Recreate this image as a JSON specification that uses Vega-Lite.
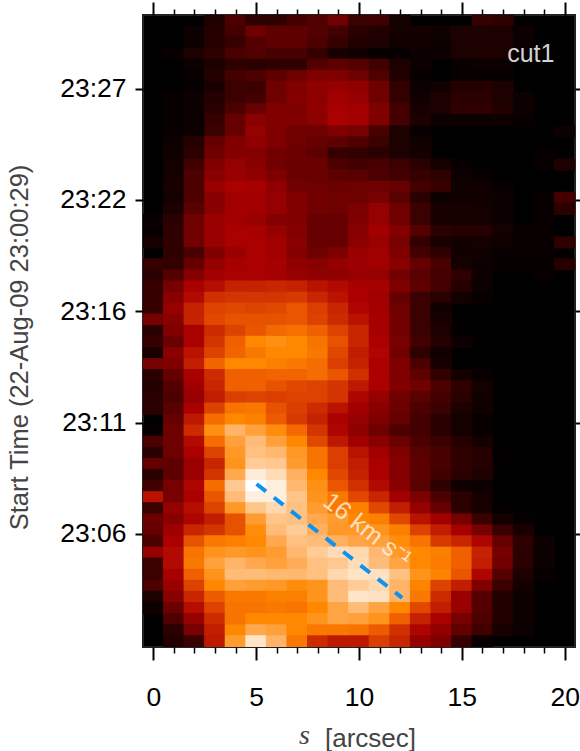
{"$schema":"https://vega.github.io/schema/vega-lite/v6.json","width":432,"height":632,"padding":{"left":143,"top":15,"right":5,"bottom":104},"autosize":{"type":"none"},"background":"white","config":{"view":{"fill":"#000000","stroke":"#222222","strokeWidth":2},"font":"Liberation Sans"},"resolve":{"axis":{"x":"independent","y":"independent"}},"layer":[{"data":{"values":[
{"s":3,"t":1866,"v":7},{"s":4,"t":1866,"v":18},{"s":5,"t":1866,"v":11},{"s":6,"t":1866,"v":11},{"s":7,"t":1866,"v":16},{"s":8,"t":1866,"v":19},{"s":9,"t":1866,"v":26},{"s":10,"t":1866,"v":14},{"s":11,"t":1866,"v":15},{"s":12,"t":1866,"v":5},{"s":16,"t":1866,"v":13},{"s":17,"t":1866,"v":11},
{"s":2,"t":1834,"v":3},{"s":3,"t":1834,"v":9},{"s":4,"t":1834,"v":16},{"s":5,"t":1834,"v":26},{"s":6,"t":1834,"v":22},{"s":7,"t":1834,"v":22},{"s":8,"t":1834,"v":20},{"s":9,"t":1834,"v":16},{"s":10,"t":1834,"v":10},{"s":11,"t":1834,"v":8},{"s":12,"t":1834,"v":5},{"s":13,"t":1834,"v":5},{"s":14,"t":1834,"v":4},{"s":15,"t":1834,"v":7},{"s":16,"t":1834,"v":7},{"s":17,"t":1834,"v":7},{"s":18,"t":1834,"v":3},
{"s":2,"t":1802,"v":3},{"s":3,"t":1802,"v":9},{"s":4,"t":1802,"v":13},{"s":5,"t":1802,"v":20},{"s":6,"t":1802,"v":22},{"s":7,"t":1802,"v":22},{"s":8,"t":1802,"v":18},{"s":9,"t":1802,"v":13},{"s":10,"t":1802,"v":8},{"s":11,"t":1802,"v":7},{"s":12,"t":1802,"v":4},{"s":13,"t":1802,"v":4},{"s":14,"t":1802,"v":3},{"s":15,"t":1802,"v":7},{"s":16,"t":1802,"v":7},{"s":17,"t":1802,"v":7},{"s":18,"t":1802,"v":3},
{"s":1,"t":1769,"v":2},{"s":2,"t":1769,"v":7},{"s":3,"t":1769,"v":11},{"s":4,"t":1769,"v":17},{"s":5,"t":1769,"v":19},{"s":6,"t":1769,"v":17},{"s":7,"t":1769,"v":17},{"s":8,"t":1769,"v":13},{"s":9,"t":1769,"v":6},{"s":10,"t":1769,"v":4},{"s":11,"t":1769,"v":2},{"s":12,"t":1769,"v":2},{"s":13,"t":1769,"v":3},{"s":14,"t":1769,"v":3},{"s":15,"t":1769,"v":7},{"s":16,"t":1769,"v":7},{"s":17,"t":1769,"v":7},{"s":18,"t":1769,"v":2},
{"s":2,"t":1737,"v":3},{"s":3,"t":1737,"v":7},{"s":4,"t":1737,"v":11},{"s":5,"t":1737,"v":10},{"s":6,"t":1737,"v":11},{"s":7,"t":1737,"v":11},{"s":8,"t":1737,"v":20},{"s":9,"t":1737,"v":22},{"s":10,"t":1737,"v":20},{"s":11,"t":1737,"v":15},{"s":12,"t":1737,"v":7},{"s":13,"t":1737,"v":3},{"s":15,"t":1737,"v":2},{"s":16,"t":1737,"v":3},{"s":17,"t":1737,"v":3},
{"s":2,"t":1704,"v":2},{"s":3,"t":1704,"v":9},{"s":4,"t":1704,"v":16},{"s":5,"t":1704,"v":18},{"s":6,"t":1704,"v":22},{"s":7,"t":1704,"v":26},{"s":8,"t":1704,"v":30},{"s":9,"t":1704,"v":30},{"s":10,"t":1704,"v":26},{"s":11,"t":1704,"v":19},{"s":12,"t":1704,"v":8},{"s":13,"t":1704,"v":2},{"s":15,"t":1704,"v":2},{"s":16,"t":1704,"v":2},{"s":17,"t":1704,"v":2},
{"s":2,"t":1672,"v":2},{"s":3,"t":1672,"v":6},{"s":4,"t":1672,"v":14},{"s":5,"t":1672,"v":14},{"s":6,"t":1672,"v":26},{"s":7,"t":1672,"v":30},{"s":8,"t":1672,"v":34},{"s":9,"t":1672,"v":35},{"s":10,"t":1672,"v":34},{"s":11,"t":1672,"v":26},{"s":12,"t":1672,"v":12},{"s":13,"t":1672,"v":3},{"s":14,"t":1672,"v":4},{"s":15,"t":1672,"v":9},{"s":16,"t":1672,"v":9},{"s":17,"t":1672,"v":7},
{"s":1,"t":1640,"v":2},{"s":2,"t":1640,"v":3},{"s":3,"t":1640,"v":9},{"s":4,"t":1640,"v":14},{"s":5,"t":1640,"v":16},{"s":6,"t":1640,"v":26},{"s":7,"t":1640,"v":31},{"s":8,"t":1640,"v":33},{"s":9,"t":1640,"v":38},{"s":10,"t":1640,"v":35},{"s":11,"t":1640,"v":26},{"s":12,"t":1640,"v":12},{"s":13,"t":1640,"v":4},{"s":14,"t":1640,"v":7},{"s":15,"t":1640,"v":10},{"s":16,"t":1640,"v":10},{"s":17,"t":1640,"v":7},{"s":18,"t":1640,"v":3},
{"s":1,"t":1607,"v":2},{"s":2,"t":1607,"v":3},{"s":3,"t":1607,"v":10},{"s":4,"t":1607,"v":18},{"s":5,"t":1607,"v":25},{"s":6,"t":1607,"v":30},{"s":7,"t":1607,"v":30},{"s":8,"t":1607,"v":34},{"s":9,"t":1607,"v":39},{"s":10,"t":1607,"v":38},{"s":11,"t":1607,"v":30},{"s":12,"t":1607,"v":16},{"s":13,"t":1607,"v":6},{"s":14,"t":1607,"v":7},{"s":15,"t":1607,"v":11},{"s":16,"t":1607,"v":11},{"s":17,"t":1607,"v":8},{"s":18,"t":1607,"v":3},
{"s":1,"t":1575,"v":2},{"s":2,"t":1575,"v":3},{"s":3,"t":1575,"v":13},{"s":4,"t":1575,"v":24},{"s":5,"t":1575,"v":32},{"s":6,"t":1575,"v":30},{"s":7,"t":1575,"v":30},{"s":8,"t":1575,"v":33},{"s":9,"t":1575,"v":40},{"s":10,"t":1575,"v":38},{"s":11,"t":1575,"v":30},{"s":12,"t":1575,"v":16},{"s":13,"t":1575,"v":7},{"s":14,"t":1575,"v":3},{"s":15,"t":1575,"v":3},{"s":16,"t":1575,"v":3},{"s":17,"t":1575,"v":3},{"s":18,"t":1575,"v":2},
{"s":1,"t":1542,"v":2},{"s":2,"t":1542,"v":3},{"s":3,"t":1542,"v":14},{"s":4,"t":1542,"v":24},{"s":5,"t":1542,"v":35},{"s":6,"t":1542,"v":30},{"s":7,"t":1542,"v":26},{"s":8,"t":1542,"v":26},{"s":9,"t":1542,"v":30},{"s":10,"t":1542,"v":28},{"s":11,"t":1542,"v":17},{"s":12,"t":1542,"v":7},{"s":13,"t":1542,"v":2},{"s":20,"t":1542,"v":3},
{"s":1,"t":1510,"v":3},{"s":2,"t":1510,"v":9},{"s":3,"t":1510,"v":24},{"s":4,"t":1510,"v":30},{"s":5,"t":1510,"v":34},{"s":6,"t":1510,"v":30},{"s":7,"t":1510,"v":26},{"s":8,"t":1510,"v":24},{"s":9,"t":1510,"v":22},{"s":10,"t":1510,"v":19},{"s":11,"t":1510,"v":14},{"s":12,"t":1510,"v":7},{"s":13,"t":1510,"v":4},
{"s":1,"t":1478,"v":4},{"s":2,"t":1478,"v":10},{"s":3,"t":1478,"v":26},{"s":4,"t":1478,"v":31},{"s":5,"t":1478,"v":31},{"s":6,"t":1478,"v":27},{"s":7,"t":1478,"v":25},{"s":8,"t":1478,"v":22},{"s":9,"t":1478,"v":13},{"s":10,"t":1478,"v":12},{"s":11,"t":1478,"v":10},{"s":12,"t":1478,"v":7},{"s":13,"t":1478,"v":5},{"s":19,"t":1478,"v":2},
{"s":1,"t":1445,"v":5},{"s":2,"t":1445,"v":15},{"s":3,"t":1445,"v":30},{"s":4,"t":1445,"v":35},{"s":5,"t":1445,"v":32},{"s":6,"t":1445,"v":27},{"s":7,"t":1445,"v":25},{"s":8,"t":1445,"v":25},{"s":9,"t":1445,"v":18},{"s":10,"t":1445,"v":16},{"s":11,"t":1445,"v":17},{"s":12,"t":1445,"v":14},{"s":13,"t":1445,"v":10},{"s":14,"t":1445,"v":5},{"s":15,"t":1445,"v":2},{"s":19,"t":1445,"v":2},{"s":20,"t":1445,"v":7},
{"s":1,"t":1413,"v":5},{"s":2,"t":1413,"v":18},{"s":3,"t":1413,"v":32},{"s":4,"t":1413,"v":36},{"s":5,"t":1413,"v":34},{"s":6,"t":1413,"v":30},{"s":7,"t":1413,"v":25},{"s":8,"t":1413,"v":25},{"s":9,"t":1413,"v":22},{"s":10,"t":1413,"v":21},{"s":11,"t":1413,"v":18},{"s":12,"t":1413,"v":16},{"s":13,"t":1413,"v":13},{"s":14,"t":1413,"v":11},{"s":15,"t":1413,"v":3},{"s":16,"t":1413,"v":2},
{"s":1,"t":1380,"v":6},{"s":2,"t":1380,"v":18},{"s":3,"t":1380,"v":36},{"s":4,"t":1380,"v":40},{"s":5,"t":1380,"v":39},{"s":6,"t":1380,"v":34},{"s":7,"t":1380,"v":27},{"s":8,"t":1380,"v":26},{"s":9,"t":1380,"v":25},{"s":10,"t":1380,"v":26},{"s":11,"t":1380,"v":26},{"s":12,"t":1380,"v":24},{"s":13,"t":1380,"v":16},{"s":14,"t":1380,"v":13},{"s":15,"t":1380,"v":4},{"s":16,"t":1380,"v":4},{"s":17,"t":1380,"v":2},
{"s":1,"t":1348,"v":5},{"s":2,"t":1348,"v":18},{"s":3,"t":1348,"v":32},{"s":4,"t":1348,"v":38},{"s":5,"t":1348,"v":38},{"s":6,"t":1348,"v":35},{"s":7,"t":1348,"v":30},{"s":8,"t":1348,"v":27},{"s":9,"t":1348,"v":26},{"s":10,"t":1348,"v":26},{"s":11,"t":1348,"v":28},{"s":12,"t":1348,"v":21},{"s":13,"t":1348,"v":10},{"s":14,"t":1348,"v":3},{"s":15,"t":1348,"v":4},{"s":16,"t":1348,"v":4},{"s":17,"t":1348,"v":3},{"s":19,"t":1348,"v":2},{"s":20,"t":1348,"v":16},
{"s":1,"t":1316,"v":7},{"s":2,"t":1316,"v":21},{"s":3,"t":1316,"v":32},{"s":4,"t":1316,"v":38},{"s":5,"t":1316,"v":38},{"s":6,"t":1316,"v":35},{"s":7,"t":1316,"v":30},{"s":8,"t":1316,"v":27},{"s":9,"t":1316,"v":26},{"s":10,"t":1316,"v":29},{"s":11,"t":1316,"v":35},{"s":12,"t":1316,"v":26},{"s":13,"t":1316,"v":14},{"s":14,"t":1316,"v":6},{"s":15,"t":1316,"v":6},{"s":16,"t":1316,"v":5},{"s":17,"t":1316,"v":3},{"s":19,"t":1316,"v":2},{"s":20,"t":1316,"v":10},
{"s":0,"t":1283,"v":2},{"s":1,"t":1283,"v":10},{"s":2,"t":1283,"v":26},{"s":3,"t":1283,"v":36},{"s":4,"t":1283,"v":38},{"s":5,"t":1283,"v":36},{"s":6,"t":1283,"v":31},{"s":7,"t":1283,"v":30},{"s":8,"t":1283,"v":24},{"s":9,"t":1283,"v":24},{"s":10,"t":1283,"v":30},{"s":11,"t":1283,"v":35},{"s":12,"t":1283,"v":27},{"s":13,"t":1283,"v":14},{"s":14,"t":1283,"v":6},{"s":15,"t":1283,"v":5},{"s":16,"t":1283,"v":5},{"s":17,"t":1283,"v":3},{"s":19,"t":1283,"v":2},
{"s":0,"t":1251,"v":2},{"s":1,"t":1251,"v":11},{"s":2,"t":1251,"v":27},{"s":3,"t":1251,"v":36},{"s":4,"t":1251,"v":40},{"s":5,"t":1251,"v":39},{"s":6,"t":1251,"v":35},{"s":7,"t":1251,"v":31},{"s":8,"t":1251,"v":24},{"s":9,"t":1251,"v":24},{"s":10,"t":1251,"v":32},{"s":11,"t":1251,"v":38},{"s":12,"t":1251,"v":31},{"s":13,"t":1251,"v":20},{"s":14,"t":1251,"v":10},{"s":15,"t":1251,"v":9},{"s":16,"t":1251,"v":9},{"s":17,"t":1251,"v":5},{"s":18,"t":1251,"v":2},{"s":19,"t":1251,"v":2},
{"s":0,"t":1218,"v":5},{"s":1,"t":1218,"v":11},{"s":2,"t":1218,"v":27},{"s":3,"t":1218,"v":36},{"s":4,"t":1218,"v":40},{"s":5,"t":1218,"v":40},{"s":6,"t":1218,"v":38},{"s":7,"t":1218,"v":32},{"s":8,"t":1218,"v":24},{"s":9,"t":1218,"v":24},{"s":10,"t":1218,"v":33},{"s":11,"t":1218,"v":36},{"s":12,"t":1218,"v":28},{"s":13,"t":1218,"v":12},{"s":14,"t":1218,"v":6},{"s":15,"t":1218,"v":4},{"s":16,"t":1218,"v":5},{"s":17,"t":1218,"v":4},{"s":18,"t":1218,"v":2},{"s":19,"t":1218,"v":2},{"s":20,"t":1218,"v":11},
{"s":1,"t":1186,"v":11},{"s":2,"t":1186,"v":17},{"s":3,"t":1186,"v":30},{"s":4,"t":1186,"v":36},{"s":5,"t":1186,"v":40},{"s":6,"t":1186,"v":38},{"s":7,"t":1186,"v":31},{"s":8,"t":1186,"v":26},{"s":9,"t":1186,"v":30},{"s":10,"t":1186,"v":36},{"s":11,"t":1186,"v":38},{"s":12,"t":1186,"v":30},{"s":13,"t":1186,"v":16},{"s":14,"t":1186,"v":11},{"s":15,"t":1186,"v":4},{"s":16,"t":1186,"v":4},{"s":17,"t":1186,"v":2},{"s":18,"t":1186,"v":2},{"s":19,"t":1186,"v":2},
{"s":0,"t":1154,"v":13},{"s":1,"t":1154,"v":12},{"s":2,"t":1154,"v":24},{"s":3,"t":1154,"v":35},{"s":4,"t":1154,"v":39},{"s":5,"t":1154,"v":40},{"s":6,"t":1154,"v":39},{"s":7,"t":1154,"v":34},{"s":8,"t":1154,"v":32},{"s":9,"t":1154,"v":35},{"s":10,"t":1154,"v":37},{"s":11,"t":1154,"v":38},{"s":12,"t":1154,"v":32},{"s":13,"t":1154,"v":24},{"s":14,"t":1154,"v":17},{"s":15,"t":1154,"v":5},{"s":16,"t":1154,"v":3},{"s":17,"t":1154,"v":2},{"s":18,"t":1154,"v":2},{"s":19,"t":1154,"v":2},{"s":20,"t":1154,"v":9},
{"s":0,"t":1121,"v":10},{"s":1,"t":1121,"v":20},{"s":2,"t":1121,"v":31},{"s":3,"t":1121,"v":38},{"s":4,"t":1121,"v":40},{"s":5,"t":1121,"v":40},{"s":6,"t":1121,"v":39},{"s":7,"t":1121,"v":35},{"s":8,"t":1121,"v":34},{"s":9,"t":1121,"v":34},{"s":10,"t":1121,"v":36},{"s":11,"t":1121,"v":35},{"s":12,"t":1121,"v":27},{"s":13,"t":1121,"v":21},{"s":14,"t":1121,"v":16},{"s":15,"t":1121,"v":11},{"s":16,"t":1121,"v":3},{"s":19,"t":1121,"v":2},
{"s":0,"t":1089,"v":13},{"s":1,"t":1089,"v":28},{"s":2,"t":1089,"v":40},{"s":3,"t":1089,"v":43},{"s":4,"t":1089,"v":47},{"s":5,"t":1089,"v":47},{"s":6,"t":1089,"v":48},{"s":7,"t":1089,"v":47},{"s":8,"t":1089,"v":44},{"s":9,"t":1089,"v":42},{"s":10,"t":1089,"v":40},{"s":11,"t":1089,"v":39},{"s":12,"t":1089,"v":30},{"s":13,"t":1089,"v":22},{"s":14,"t":1089,"v":16},{"s":15,"t":1089,"v":9},{"s":16,"t":1089,"v":3},
{"s":0,"t":1056,"v":13},{"s":1,"t":1056,"v":32},{"s":2,"t":1056,"v":42},{"s":3,"t":1056,"v":50},{"s":4,"t":1056,"v":51},{"s":5,"t":1056,"v":51},{"s":6,"t":1056,"v":51},{"s":7,"t":1056,"v":52},{"s":8,"t":1056,"v":48},{"s":9,"t":1056,"v":44},{"s":10,"t":1056,"v":40},{"s":11,"t":1056,"v":38},{"s":12,"t":1056,"v":24},{"s":13,"t":1056,"v":14},{"s":14,"t":1056,"v":10},{"s":15,"t":1056,"v":5},{"s":16,"t":1056,"v":2},
{"s":0,"t":1024,"v":13},{"s":1,"t":1024,"v":35},{"s":2,"t":1024,"v":47},{"s":3,"t":1024,"v":54},{"s":4,"t":1024,"v":55},{"s":5,"t":1024,"v":54},{"s":6,"t":1024,"v":55},{"s":7,"t":1024,"v":58},{"s":8,"t":1024,"v":53},{"s":9,"t":1024,"v":48},{"s":10,"t":1024,"v":41},{"s":11,"t":1024,"v":38},{"s":12,"t":1024,"v":26},{"s":13,"t":1024,"v":14},{"s":14,"t":1024,"v":4},
{"s":0,"t":992,"v":28},{"s":1,"t":992,"v":32},{"s":2,"t":992,"v":47},{"s":3,"t":992,"v":55},{"s":4,"t":992,"v":57},{"s":5,"t":992,"v":57},{"s":6,"t":992,"v":57},{"s":7,"t":992,"v":58},{"s":8,"t":992,"v":54},{"s":9,"t":992,"v":49},{"s":10,"t":992,"v":44},{"s":11,"t":992,"v":39},{"s":12,"t":992,"v":27},{"s":13,"t":992,"v":14},{"s":14,"t":992,"v":6},
{"s":0,"t":959,"v":10},{"s":1,"t":959,"v":30},{"s":2,"t":959,"v":40},{"s":3,"t":959,"v":49},{"s":4,"t":959,"v":54},{"s":5,"t":959,"v":58},{"s":6,"t":959,"v":62},{"s":7,"t":959,"v":64},{"s":8,"t":959,"v":60},{"s":9,"t":959,"v":54},{"s":10,"t":959,"v":48},{"s":11,"t":959,"v":39},{"s":12,"t":959,"v":27},{"s":13,"t":959,"v":14},{"s":14,"t":959,"v":7},{"s":15,"t":959,"v":1},
{"s":0,"t":927,"v":13},{"s":1,"t":927,"v":25},{"s":2,"t":927,"v":40},{"s":3,"t":927,"v":51},{"s":4,"t":927,"v":60},{"s":5,"t":927,"v":70},{"s":6,"t":927,"v":72},{"s":7,"t":927,"v":70},{"s":8,"t":927,"v":65},{"s":9,"t":927,"v":57},{"s":10,"t":927,"v":48},{"s":11,"t":927,"v":40},{"s":12,"t":927,"v":28},{"s":13,"t":927,"v":16},{"s":14,"t":927,"v":9},{"s":15,"t":927,"v":3},
{"s":0,"t":894,"v":6},{"s":1,"t":894,"v":32},{"s":2,"t":894,"v":44},{"s":3,"t":894,"v":54},{"s":4,"t":894,"v":61},{"s":5,"t":894,"v":66},{"s":6,"t":894,"v":70},{"s":7,"t":894,"v":70},{"s":8,"t":894,"v":66},{"s":9,"t":894,"v":55},{"s":10,"t":894,"v":46},{"s":11,"t":894,"v":41},{"s":12,"t":894,"v":27},{"s":13,"t":894,"v":11},{"s":14,"t":894,"v":4},
{"s":0,"t":862,"v":28},{"s":1,"t":862,"v":30},{"s":2,"t":862,"v":46},{"s":3,"t":862,"v":61},{"s":4,"t":862,"v":70},{"s":5,"t":862,"v":70},{"s":6,"t":862,"v":68},{"s":7,"t":862,"v":66},{"s":8,"t":862,"v":63},{"s":9,"t":862,"v":53},{"s":10,"t":862,"v":47},{"s":11,"t":862,"v":40},{"s":12,"t":862,"v":30},{"s":13,"t":862,"v":18},{"s":14,"t":862,"v":6},
{"s":0,"t":830,"v":10},{"s":1,"t":830,"v":24},{"s":2,"t":830,"v":40},{"s":3,"t":830,"v":49},{"s":4,"t":830,"v":60},{"s":5,"t":830,"v":60},{"s":6,"t":830,"v":61},{"s":7,"t":830,"v":61},{"s":8,"t":830,"v":63},{"s":9,"t":830,"v":58},{"s":10,"t":830,"v":50},{"s":11,"t":830,"v":40},{"s":12,"t":830,"v":30},{"s":13,"t":830,"v":22},{"s":14,"t":830,"v":12},{"s":15,"t":830,"v":5},{"s":16,"t":830,"v":2},
{"s":0,"t":797,"v":9},{"s":1,"t":797,"v":20},{"s":2,"t":797,"v":38},{"s":3,"t":797,"v":48},{"s":4,"t":797,"v":60},{"s":5,"t":797,"v":60},{"s":6,"t":797,"v":57},{"s":7,"t":797,"v":55},{"s":8,"t":797,"v":54},{"s":9,"t":797,"v":51},{"s":10,"t":797,"v":45},{"s":11,"t":797,"v":40},{"s":12,"t":797,"v":31},{"s":13,"t":797,"v":27},{"s":14,"t":797,"v":18},{"s":15,"t":797,"v":11},{"s":16,"t":797,"v":5},
{"s":0,"t":765,"v":10},{"s":1,"t":765,"v":18},{"s":2,"t":765,"v":35},{"s":3,"t":765,"v":46},{"s":4,"t":765,"v":53},{"s":5,"t":765,"v":54},{"s":6,"t":765,"v":53},{"s":7,"t":765,"v":54},{"s":8,"t":765,"v":54},{"s":9,"t":765,"v":51},{"s":10,"t":765,"v":41},{"s":11,"t":765,"v":35},{"s":12,"t":765,"v":26},{"s":13,"t":765,"v":21},{"s":14,"t":765,"v":16},{"s":15,"t":765,"v":10},{"s":16,"t":765,"v":4},
{"s":0,"t":732,"v":10},{"s":1,"t":732,"v":21},{"s":2,"t":732,"v":40},{"s":3,"t":732,"v":54},{"s":4,"t":732,"v":65},{"s":5,"t":732,"v":66},{"s":6,"t":732,"v":57},{"s":7,"t":732,"v":53},{"s":8,"t":732,"v":49},{"s":9,"t":732,"v":44},{"s":10,"t":732,"v":38},{"s":11,"t":732,"v":32},{"s":12,"t":732,"v":25},{"s":13,"t":732,"v":18},{"s":14,"t":732,"v":14},{"s":15,"t":732,"v":7},{"s":16,"t":732,"v":4},
{"s":1,"t":700,"v":24},{"s":2,"t":700,"v":45},{"s":3,"t":700,"v":63},{"s":4,"t":700,"v":70},{"s":5,"t":700,"v":68},{"s":6,"t":700,"v":59},{"s":7,"t":700,"v":52},{"s":8,"t":700,"v":47},{"s":9,"t":700,"v":40},{"s":10,"t":700,"v":35},{"s":11,"t":700,"v":30},{"s":12,"t":700,"v":24},{"s":13,"t":700,"v":16},{"s":14,"t":700,"v":10},{"s":15,"t":700,"v":5},{"s":16,"t":700,"v":2},
{"s":0,"t":668,"v":2},{"s":1,"t":668,"v":26},{"s":2,"t":668,"v":49},{"s":3,"t":668,"v":72},{"s":4,"t":668,"v":81},{"s":5,"t":668,"v":76},{"s":6,"t":668,"v":71},{"s":7,"t":668,"v":62},{"s":8,"t":668,"v":51},{"s":9,"t":668,"v":41},{"s":10,"t":668,"v":33},{"s":11,"t":668,"v":26},{"s":12,"t":668,"v":18},{"s":13,"t":668,"v":16},{"s":14,"t":668,"v":10},{"s":15,"t":668,"v":5},{"s":16,"t":668,"v":2},
{"s":0,"t":635,"v":18},{"s":1,"t":635,"v":26},{"s":2,"t":635,"v":42},{"s":3,"t":635,"v":63},{"s":4,"t":635,"v":76},{"s":5,"t":635,"v":83},{"s":6,"t":635,"v":76},{"s":7,"t":635,"v":70},{"s":8,"t":635,"v":55},{"s":9,"t":635,"v":45},{"s":10,"t":635,"v":38},{"s":11,"t":635,"v":32},{"s":12,"t":635,"v":25},{"s":13,"t":635,"v":18},{"s":14,"t":635,"v":14},{"s":15,"t":635,"v":9},{"s":16,"t":635,"v":5},
{"s":0,"t":603,"v":10},{"s":1,"t":603,"v":26},{"s":2,"t":603,"v":40},{"s":3,"t":603,"v":54},{"s":4,"t":603,"v":74},{"s":5,"t":603,"v":84},{"s":6,"t":603,"v":82},{"s":7,"t":603,"v":74},{"s":8,"t":603,"v":65},{"s":9,"t":603,"v":53},{"s":10,"t":603,"v":44},{"s":11,"t":603,"v":38},{"s":12,"t":603,"v":30},{"s":13,"t":603,"v":21},{"s":14,"t":603,"v":17},{"s":15,"t":603,"v":11},{"s":16,"t":603,"v":9},{"s":17,"t":603,"v":1},
{"s":0,"t":570,"v":24},{"s":1,"t":570,"v":22},{"s":2,"t":570,"v":36},{"s":3,"t":570,"v":48},{"s":4,"t":570,"v":73},{"s":5,"t":570,"v":87},{"s":6,"t":570,"v":86},{"s":7,"t":570,"v":75},{"s":8,"t":570,"v":65},{"s":9,"t":570,"v":53},{"s":10,"t":570,"v":46},{"s":11,"t":570,"v":40},{"s":12,"t":570,"v":31},{"s":13,"t":570,"v":22},{"s":14,"t":570,"v":17},{"s":15,"t":570,"v":11},{"s":16,"t":570,"v":9},
{"s":0,"t":538,"v":10},{"s":1,"t":538,"v":22},{"s":2,"t":538,"v":37},{"s":3,"t":538,"v":51},{"s":4,"t":538,"v":78},{"s":5,"t":538,"v":95},{"s":6,"t":538,"v":91},{"s":7,"t":538,"v":80},{"s":8,"t":538,"v":70},{"s":9,"t":538,"v":55},{"s":10,"t":538,"v":47},{"s":11,"t":538,"v":40},{"s":12,"t":538,"v":31},{"s":13,"t":538,"v":22},{"s":14,"t":538,"v":15},{"s":15,"t":538,"v":10},{"s":16,"t":538,"v":7},
{"s":0,"t":506,"v":15},{"s":1,"t":506,"v":28},{"s":2,"t":506,"v":41},{"s":3,"t":506,"v":63},{"s":4,"t":506,"v":86},{"s":5,"t":506,"v":100},{"s":6,"t":506,"v":96},{"s":7,"t":506,"v":82},{"s":8,"t":506,"v":72},{"s":9,"t":506,"v":58},{"s":10,"t":506,"v":50},{"s":11,"t":506,"v":42},{"s":12,"t":506,"v":32},{"s":13,"t":506,"v":21},{"s":14,"t":506,"v":11},{"s":15,"t":506,"v":4},{"s":16,"t":506,"v":3},
{"s":0,"t":473,"v":44},{"s":1,"t":473,"v":28},{"s":2,"t":473,"v":40},{"s":3,"t":473,"v":58},{"s":4,"t":473,"v":83},{"s":5,"t":473,"v":96},{"s":6,"t":473,"v":96},{"s":7,"t":473,"v":85},{"s":8,"t":473,"v":73},{"s":9,"t":473,"v":66},{"s":10,"t":473,"v":55},{"s":11,"t":473,"v":48},{"s":12,"t":473,"v":38},{"s":13,"t":473,"v":29},{"s":14,"t":473,"v":18},{"s":15,"t":473,"v":10},{"s":16,"t":473,"v":5},
{"s":0,"t":441,"v":14},{"s":1,"t":441,"v":35},{"s":2,"t":441,"v":43},{"s":3,"t":441,"v":54},{"s":4,"t":441,"v":74},{"s":5,"t":441,"v":85},{"s":6,"t":441,"v":90},{"s":7,"t":441,"v":84},{"s":8,"t":441,"v":75},{"s":9,"t":441,"v":66},{"s":10,"t":441,"v":68},{"s":11,"t":441,"v":55},{"s":12,"t":441,"v":46},{"s":13,"t":441,"v":35},{"s":14,"t":441,"v":24},{"s":15,"t":441,"v":10},{"s":16,"t":441,"v":6},{"s":17,"t":441,"v":1},
{"s":0,"t":408,"v":25},{"s":1,"t":408,"v":32},{"s":2,"t":408,"v":41},{"s":3,"t":408,"v":46},{"s":4,"t":408,"v":57},{"s":5,"t":408,"v":75},{"s":6,"t":408,"v":85},{"s":7,"t":408,"v":84},{"s":8,"t":408,"v":78},{"s":9,"t":408,"v":75},{"s":10,"t":408,"v":70},{"s":11,"t":408,"v":68},{"s":12,"t":408,"v":55},{"s":13,"t":408,"v":44},{"s":14,"t":408,"v":38},{"s":15,"t":408,"v":28},{"s":16,"t":408,"v":14},{"s":17,"t":408,"v":5},{"s":18,"t":408,"v":2},
{"s":0,"t":376,"v":24},{"s":1,"t":376,"v":37},{"s":2,"t":376,"v":48},{"s":3,"t":376,"v":51},{"s":4,"t":376,"v":57},{"s":5,"t":376,"v":71},{"s":6,"t":376,"v":83},{"s":7,"t":376,"v":87},{"s":8,"t":376,"v":80},{"s":9,"t":376,"v":74},{"s":10,"t":376,"v":74},{"s":11,"t":376,"v":73},{"s":12,"t":376,"v":68},{"s":13,"t":376,"v":54},{"s":14,"t":376,"v":46},{"s":15,"t":376,"v":39},{"s":16,"t":376,"v":28},{"s":17,"t":376,"v":14},{"s":18,"t":376,"v":6},
{"s":0,"t":344,"v":18},{"s":1,"t":344,"v":40},{"s":2,"t":344,"v":57},{"s":3,"t":344,"v":66},{"s":4,"t":344,"v":68},{"s":5,"t":344,"v":70},{"s":6,"t":344,"v":78},{"s":7,"t":344,"v":84},{"s":8,"t":344,"v":83},{"s":9,"t":344,"v":80},{"s":10,"t":344,"v":77},{"s":11,"t":344,"v":76},{"s":12,"t":344,"v":71},{"s":13,"t":344,"v":65},{"s":14,"t":344,"v":52},{"s":15,"t":344,"v":48},{"s":16,"t":344,"v":41},{"s":17,"t":344,"v":24},{"s":18,"t":344,"v":11},{"s":19,"t":344,"v":3},
{"s":0,"t":311,"v":35},{"s":1,"t":311,"v":42},{"s":2,"t":311,"v":65},{"s":3,"t":311,"v":73},{"s":4,"t":311,"v":74},{"s":5,"t":311,"v":73},{"s":6,"t":311,"v":75},{"s":7,"t":311,"v":82},{"s":8,"t":311,"v":87},{"s":9,"t":311,"v":91},{"s":10,"t":311,"v":90},{"s":11,"t":311,"v":82},{"s":12,"t":311,"v":74},{"s":13,"t":311,"v":70},{"s":14,"t":311,"v":68},{"s":15,"t":311,"v":60},{"s":16,"t":311,"v":47},{"s":17,"t":311,"v":28},{"s":18,"t":311,"v":10},{"s":19,"t":311,"v":3},
{"s":0,"t":279,"v":14},{"s":1,"t":279,"v":42},{"s":2,"t":279,"v":66},{"s":3,"t":279,"v":76},{"s":4,"t":279,"v":81},{"s":5,"t":279,"v":78},{"s":6,"t":279,"v":76},{"s":7,"t":279,"v":79},{"s":8,"t":279,"v":84},{"s":9,"t":279,"v":86},{"s":10,"t":279,"v":91},{"s":11,"t":279,"v":83},{"s":12,"t":279,"v":77},{"s":13,"t":279,"v":70},{"s":14,"t":279,"v":67},{"s":15,"t":279,"v":60},{"s":16,"t":279,"v":46},{"s":17,"t":279,"v":27},{"s":18,"t":279,"v":10},{"s":19,"t":279,"v":3},
{"s":0,"t":246,"v":14},{"s":1,"t":246,"v":39},{"s":2,"t":246,"v":60},{"s":3,"t":246,"v":73},{"s":4,"t":246,"v":83},{"s":5,"t":246,"v":83},{"s":6,"t":246,"v":82},{"s":7,"t":246,"v":82},{"s":8,"t":246,"v":84},{"s":9,"t":246,"v":90},{"s":10,"t":246,"v":93},{"s":11,"t":246,"v":92},{"s":12,"t":246,"v":84},{"s":13,"t":246,"v":73},{"s":14,"t":246,"v":69},{"s":15,"t":246,"v":58},{"s":16,"t":246,"v":41},{"s":17,"t":246,"v":20},{"s":18,"t":246,"v":7},{"s":19,"t":246,"v":2},
{"s":0,"t":214,"v":18},{"s":1,"t":214,"v":36},{"s":2,"t":214,"v":54},{"s":3,"t":214,"v":70},{"s":4,"t":214,"v":76},{"s":5,"t":214,"v":75},{"s":6,"t":214,"v":74},{"s":7,"t":214,"v":71},{"s":8,"t":214,"v":73},{"s":9,"t":214,"v":83},{"s":10,"t":214,"v":87},{"s":11,"t":214,"v":90},{"s":12,"t":214,"v":81},{"s":13,"t":214,"v":69},{"s":14,"t":214,"v":54},{"s":15,"t":214,"v":46},{"s":16,"t":214,"v":30},{"s":17,"t":214,"v":14},{"s":18,"t":214,"v":5},
{"s":0,"t":182,"v":7},{"s":1,"t":182,"v":32},{"s":2,"t":182,"v":48},{"s":3,"t":182,"v":59},{"s":4,"t":182,"v":66},{"s":5,"t":182,"v":66},{"s":6,"t":182,"v":68},{"s":7,"t":182,"v":68},{"s":8,"t":182,"v":73},{"s":9,"t":182,"v":83},{"s":10,"t":182,"v":93},{"s":11,"t":182,"v":92},{"s":12,"t":182,"v":81},{"s":13,"t":182,"v":66},{"s":14,"t":182,"v":49},{"s":15,"t":182,"v":36},{"s":16,"t":182,"v":20},{"s":17,"t":182,"v":8},{"s":18,"t":182,"v":3},
{"s":0,"t":149,"v":3},{"s":1,"t":149,"v":25},{"s":2,"t":149,"v":43},{"s":3,"t":149,"v":54},{"s":4,"t":149,"v":65},{"s":5,"t":149,"v":65},{"s":6,"t":149,"v":66},{"s":7,"t":149,"v":65},{"s":8,"t":149,"v":70},{"s":9,"t":149,"v":77},{"s":10,"t":149,"v":83},{"s":11,"t":149,"v":77},{"s":12,"t":149,"v":70},{"s":13,"t":149,"v":55},{"s":14,"t":149,"v":46},{"s":15,"t":149,"v":36},{"s":16,"t":149,"v":20},{"s":17,"t":149,"v":8},{"s":18,"t":149,"v":3},
{"s":1,"t":117,"v":19},{"s":2,"t":117,"v":35},{"s":3,"t":117,"v":49},{"s":4,"t":117,"v":65},{"s":5,"t":117,"v":70},{"s":6,"t":117,"v":70},{"s":7,"t":117,"v":70},{"s":8,"t":117,"v":73},{"s":9,"t":117,"v":77},{"s":10,"t":117,"v":76},{"s":11,"t":117,"v":73},{"s":12,"t":117,"v":60},{"s":13,"t":117,"v":47},{"s":14,"t":117,"v":40},{"s":15,"t":117,"v":28},{"s":16,"t":117,"v":18},{"s":17,"t":117,"v":8},{"s":18,"t":117,"v":3},
{"s":1,"t":84,"v":10},{"s":2,"t":84,"v":28},{"s":3,"t":84,"v":46},{"s":4,"t":84,"v":70},{"s":5,"t":84,"v":78},{"s":6,"t":84,"v":76},{"s":7,"t":84,"v":70},{"s":8,"t":84,"v":66},{"s":9,"t":84,"v":66},{"s":10,"t":84,"v":65},{"s":11,"t":84,"v":59},{"s":12,"t":84,"v":50},{"s":13,"t":84,"v":41},{"s":14,"t":84,"v":34},{"s":15,"t":84,"v":23},{"s":16,"t":84,"v":15},{"s":17,"t":84,"v":6},{"s":18,"t":84,"v":3},
{"s":1,"t":52,"v":8},{"s":2,"t":52,"v":14},{"s":3,"t":52,"v":45},{"s":4,"t":52,"v":75},{"s":5,"t":52,"v":93},{"s":6,"t":52,"v":81},{"s":7,"t":52,"v":66},{"s":8,"t":52,"v":49},{"s":9,"t":52,"v":45},{"s":10,"t":52,"v":45},{"s":11,"t":52,"v":53},{"s":12,"t":52,"v":48},{"s":13,"t":52,"v":35},{"s":14,"t":52,"v":30},{"s":15,"t":52,"v":13},{"s":16,"t":52,"v":2}
]},"mark":{"type":"rect","width":21.7,"height":12.2,"clip":true},"encoding":{
"x":{"field":"s","type":"quantitative","scale":{"domain":[-0.5,20.5],"nice":false,"zero":false},"axis":{"orient":"bottom","values":[0,1,2,3,4,5,6,7,8,9,10,11,12,13,14,15,16,17,18,19,20],"labelExpr":"datum.value % 5 === 0 ? datum.label : ''","grid":false,"domain":false,"tickColor":"#000000","tickWidth":{"condition":{"test":"datum.value % 5 === 0","value":2},"value":1.5},"tickSize":{"condition":{"test":"datum.value % 5 === 0","value":13},"value":6},"labelFontSize":26.5,"labelColor":"#000000","labelFont":"Liberation Sans","labelPadding":24,"labelFlush":false,"title":"[arcsec]","titleFontSize":26,"titleFontWeight":"normal","titleColor":"#444444","titleFont":"Liberation Sans","titleX":227,"titleY":78,"labelOverlap":false}},
"y":{"field":"t","type":"quantitative","scale":{"domain":[35.6,1882.4],"nice":false,"zero":false},"axis":{"orient":"left","values":[366,691,1016,1342,1667],"labelExpr":"'23:' + format(floor(datum.value / 60), '02d')","grid":false,"domain":false,"tickColor":"#000000","tickWidth":2,"tickSize":8,"labelFontSize":26.5,"labelColor":"#000000","labelFont":"Liberation Sans","labelPadding":9,"title":"Start Time (22-Aug-09 23:00:29)","titleFontSize":25.5,"titleFontWeight":"normal","titleColor":"#444444","titleFont":"Liberation Sans","titleX":-111,"titleY":332}},
"color":{"field":"v","type":"quantitative","legend":null,"scale":{"type":"linear","domain":[0,10,20,30,40,50,60,70,80,90,100],"range":["#000000","#2a0000","#550000","#800000","#aa0000","#d03000","#f06000","#ff8800","#ffb060","#ffd8b0","#ffffff"],"interpolate":"rgb"}}}},
{"data":{"values":[{"s":5.02,"t":512},{"s":12.1,"t":179}]},"mark":{"type":"line","color":"#0a94f0","strokeWidth":4,"strokeDash":[12,10],"clip":true},"encoding":{
"x":{"field":"s","type":"quantitative","axis":{"orient":"top","values":[0,1,2,3,4,5,6,7,8,9,10,11,12,13,14,15,16,17,18,19,20],"labels":false,"grid":false,"domain":false,"title":null,"tickColor":"#000000","tickWidth":{"condition":{"test":"datum.value % 5 === 0","value":2},"value":1.5},"tickSize":{"condition":{"test":"datum.value % 5 === 0","value":13},"value":6}}},
"y":{"field":"t","type":"quantitative","axis":{"orient":"right","values":[366,691,1016,1342,1667],"labels":false,"grid":false,"domain":false,"title":null,"tickColor":"#000000","tickWidth":2,"tickSize":8}}}},
{"data":{"values":[{"s":18.35,"t":1767,"label":"cut1"}]},"mark":{"type":"text","color":"#d2d2d2","fontSize":25,"font":"Liberation Sans"},"encoding":{"x":{"field":"s","type":"quantitative","axis":null},"y":{"field":"t","type":"quantitative","axis":null},"text":{"field":"label"}}},
{"data":{"values":[{"s":10.4,"t":378,"label":"16 km s⁻¹"}]},"mark":{"type":"text","color":"#ffffff","opacity":0.72,"fontSize":25,"font":"Liberation Sans","angle":38},"encoding":{"x":{"field":"s","type":"quantitative","axis":null},"y":{"field":"t","type":"quantitative","axis":null},"text":{"field":"label"}}},
{"data":{"values":[{"s":7.35,"t":35.6,"label":"s"}]},"mark":{"type":"text","font":"Liberation Serif","fontStyle":"italic","fontSize":28,"color":"#444444","dy":89,"clip":false},"encoding":{"x":{"field":"s","type":"quantitative","axis":null},"y":{"field":"t","type":"quantitative","axis":null},"text":{"field":"label"}}}
]}
